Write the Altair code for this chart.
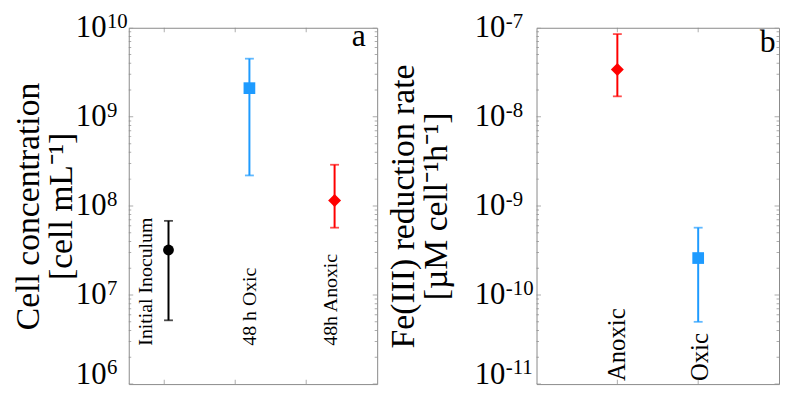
import altair as alt
import pandas as pd

FONT = "Liberation Serif"
GRAY = "#8a8a8a"

# ---------------- Panel a data ----------------
cats_a = ["Initial Inoculum", "48 h Oxic", "48h Anoxic"]
pos_a = [0.56, 1.70, 2.90]
labpos_a = [0.25, 1.71, 2.85]
val_a = [3.2e7, 2.1e9, 1.15e8]
lo_a = [5.2e6, 2.2e8, 5.7e7]
hi_a = [6.8e7, 4.5e9, 2.9e8]
col_a = ["#000000", "#1e9bff", "#ff0000"]
shp_a = ["circle", "square", "diamond"]
size_a = [120, 140, 170]
xdom_a = [0, 3.5]
xticks_a = [0.5, 1.5, 2.5]
ydom_a = [1e6, 1e10]
yexp_a = [6, 7, 8, 9, 10]
yexp_text_a = ["6", "7", "8", "9", "10"]
labely_a = 2.7e6
title_a = ["Cell concentration", "[cell mL⁻¹]"]
letter_a = "a"
letter_pos_a = (3.24, 8.0e9)

# ---------------- Panel b data ----------------
cats_b = ["Anoxic", "Oxic"]
pos_b = [1.0, 2.0]
labpos_b = [1.0, 2.02]
val_b = [3.4e-8, 2.6e-10]
lo_b = [1.7e-8, 5.0e-11]
hi_b = [8.5e-8, 5.7e-10]
col_b = ["#ff0000", "#1e9bff"]
shp_b = ["diamond", "square"]
size_b = [170, 140]
xdom_b = [0, 3]
xticks_b = [1, 2]
ydom_b = [1e-11, 1e-7]
yexp_b = [-11, -10, -9, -8, -7]
yexp_text_b = ["-11", "-10", "-9", "-8", "-7"]
labely_b = 1.08e-11
title_b = ["Fe(III) reduction rate", "[µM cell⁻¹h⁻¹]"]
letter_b = "b"
letter_pos_b = (2.86, 6.9e-8)

BOTTOM_SHIFT = 10  # the lowest tick label sits a little above its tick
EXP_DY = -6


def panel(cats, pos, labpos, val, lo, hi, col, shp, size, xdom, xticks,
          ydom, yexp, yexp_text, labely, title, letter, letter_pos,
          width, height, label_pad, title_pad, cat_font):
    xs = alt.Scale(domain=xdom, nice=False, zero=False)
    ys = alt.Scale(type="log", domain=ydom, nice=False)
    yticks = [10.0 ** e for e in yexp]
    minor = [m * 10.0 ** e for e in yexp[:-1] for m in range(2, 10)]
    bottom_test = f"datum.value <= {ydom[0] * 1.01}"
    yaxis = alt.Axis(values=yticks, labelExpr="'10'", ticks=False, domain=False,
                     grid=False, labelFont=FONT, labelFontSize=31,
                     labelColor="black", labelPadding=label_pad,
                     labelOffset={"condition": {"test": bottom_test,
                                                "value": -BOTTOM_SHIFT},
                                  "value": 0},
                     title=title, titleFont=FONT, titleFontSize=34,
                     titleFontWeight="normal", titleColor="black",
                     titlePadding=title_pad, titleLineHeight=33)

    df = pd.DataFrame({"cat": cats, "x": pos, "lx": labpos, "v": val,
                       "lo": lo, "hi": hi, "c": col, "s": shp, "sz": size})
    base = alt.Chart(df)

    err = base.mark_rule(strokeWidth=2).encode(
        x=alt.X("x:Q", scale=xs, axis=None),
        y=alt.Y("lo:Q", scale=ys, axis=yaxis),
        y2="hi:Q",
        color=alt.Color("c:N", scale=None))
    cap_lo = base.mark_tick(orient="horizontal", size=9, thickness=1.8).encode(
        x=alt.X("x:Q", scale=xs, axis=None),
        y=alt.Y("lo:Q", scale=ys, axis=yaxis),
        color=alt.Color("c:N", scale=None))
    cap_hi = base.mark_tick(orient="horizontal", size=9, thickness=1.8).encode(
        x=alt.X("x:Q", scale=xs, axis=None),
        y=alt.Y("hi:Q", scale=ys, axis=yaxis),
        color=alt.Color("c:N", scale=None))
    pts = base.mark_point(filled=True, opacity=1).encode(
        x=alt.X("x:Q", scale=xs, axis=None),
        y=alt.Y("v:Q", scale=ys, axis=yaxis),
        color=alt.Color("c:N", scale=None),
        shape=alt.Shape("s:N", scale=None),
        size=alt.Size("sz:Q", scale=None))
    labels = base.mark_text(angle=270, align="left", baseline="middle",
                            font=FONT, fontSize=cat_font, color="black").encode(
        x=alt.X("lx:Q", scale=xs, axis=None),
        y=alt.YDatum(labely, scale=ys, axis=yaxis, type="quantitative"),
        text="cat:N")
    let = alt.Chart(pd.DataFrame({"t": [letter]})).mark_text(
        font=FONT, fontSize=32, color="black", baseline="middle",
        align="center").encode(
        x=alt.XDatum(letter_pos[0], scale=xs, axis=None, type="quantitative"),
        y=alt.YDatum(letter_pos[1], scale=ys, axis=yaxis, type="quantitative"),
        text="t:N")
    # exponents of the tick labels (10^n)
    edf = pd.DataFrame({"v": yticks[1:], "e": yexp_text[1:]})
    expo = alt.Chart(edf).mark_text(
        font=FONT, fontSize=21, color="black", align="left",
        baseline="middle", dx=-label_pad + 1, dy=EXP_DY).encode(
        x=alt.XDatum(xdom[0], scale=xs, axis=None, type="quantitative"),
        y=alt.Y("v:Q", scale=ys, axis=yaxis),
        text="e:N")
    edf0 = pd.DataFrame({"v": yticks[:1], "e": yexp_text[:1]})
    expo0 = alt.Chart(edf0).mark_text(
        font=FONT, fontSize=21, color="black", align="left",
        baseline="middle", dx=-label_pad + 1,
        dy=EXP_DY - BOTTOM_SHIFT).encode(
        x=alt.XDatum(xdom[0], scale=xs, axis=None, type="quantitative"),
        y=alt.Y("v:Q", scale=ys, axis=yaxis),
        text="e:N")

    layers = [err, cap_lo, cap_hi, pts, labels, let, expo, expo0]

    # inward frame ticks (clipped to the plot area)
    for vals, sz in ((yticks, 9), (minor, 5)):
        tdf = pd.DataFrame({"v": vals})
        for xe in xdom:
            layers.append(alt.Chart(tdf).mark_tick(
                orient="horizontal", size=sz, thickness=1, color=GRAY,
                clip=True).encode(
                x=alt.XDatum(xe, scale=xs, axis=None, type="quantitative"),
                y=alt.Y("v:Q", scale=ys, axis=yaxis)))
    xdf = pd.DataFrame({"x": xticks})
    for ye in ydom:
        layers.append(alt.Chart(xdf).mark_tick(
            orient="vertical", size=9, thickness=1, color=GRAY,
            clip=True).encode(
            x=alt.X("x:Q", scale=xs, axis=None),
            y=alt.YDatum(ye, scale=ys, axis=yaxis, type="quantitative")))

    return alt.layer(*layers).properties(width=width, height=height)


pa = panel(cats_a, pos_a, labpos_a, val_a, lo_a, hi_a, col_a, shp_a, size_a,
           xdom_a, xticks_a, ydom_a, yexp_a, yexp_text_a, labely_a, title_a,
           letter_a, letter_pos_a, 251, 360, 23, -3, 20)
pb = panel(cats_b, pos_b, labpos_b, val_b, lo_b, hi_b, col_b, shp_b, size_b,
           xdom_b, xticks_b, ydom_b, yexp_b, yexp_text_b, labely_b, title_b,
           letter_b, letter_pos_b, 245, 360, 32, 21, 25)

chart = alt.hconcat(pa, pb, spacing=8).properties(
    padding={"left": 3, "top": 0, "right": 0, "bottom": 0},
    background="white"
).configure_view(stroke=GRAY, strokeWidth=1)

chart.save("out.html", embed_options={"renderer": "svg", "actions": False})
